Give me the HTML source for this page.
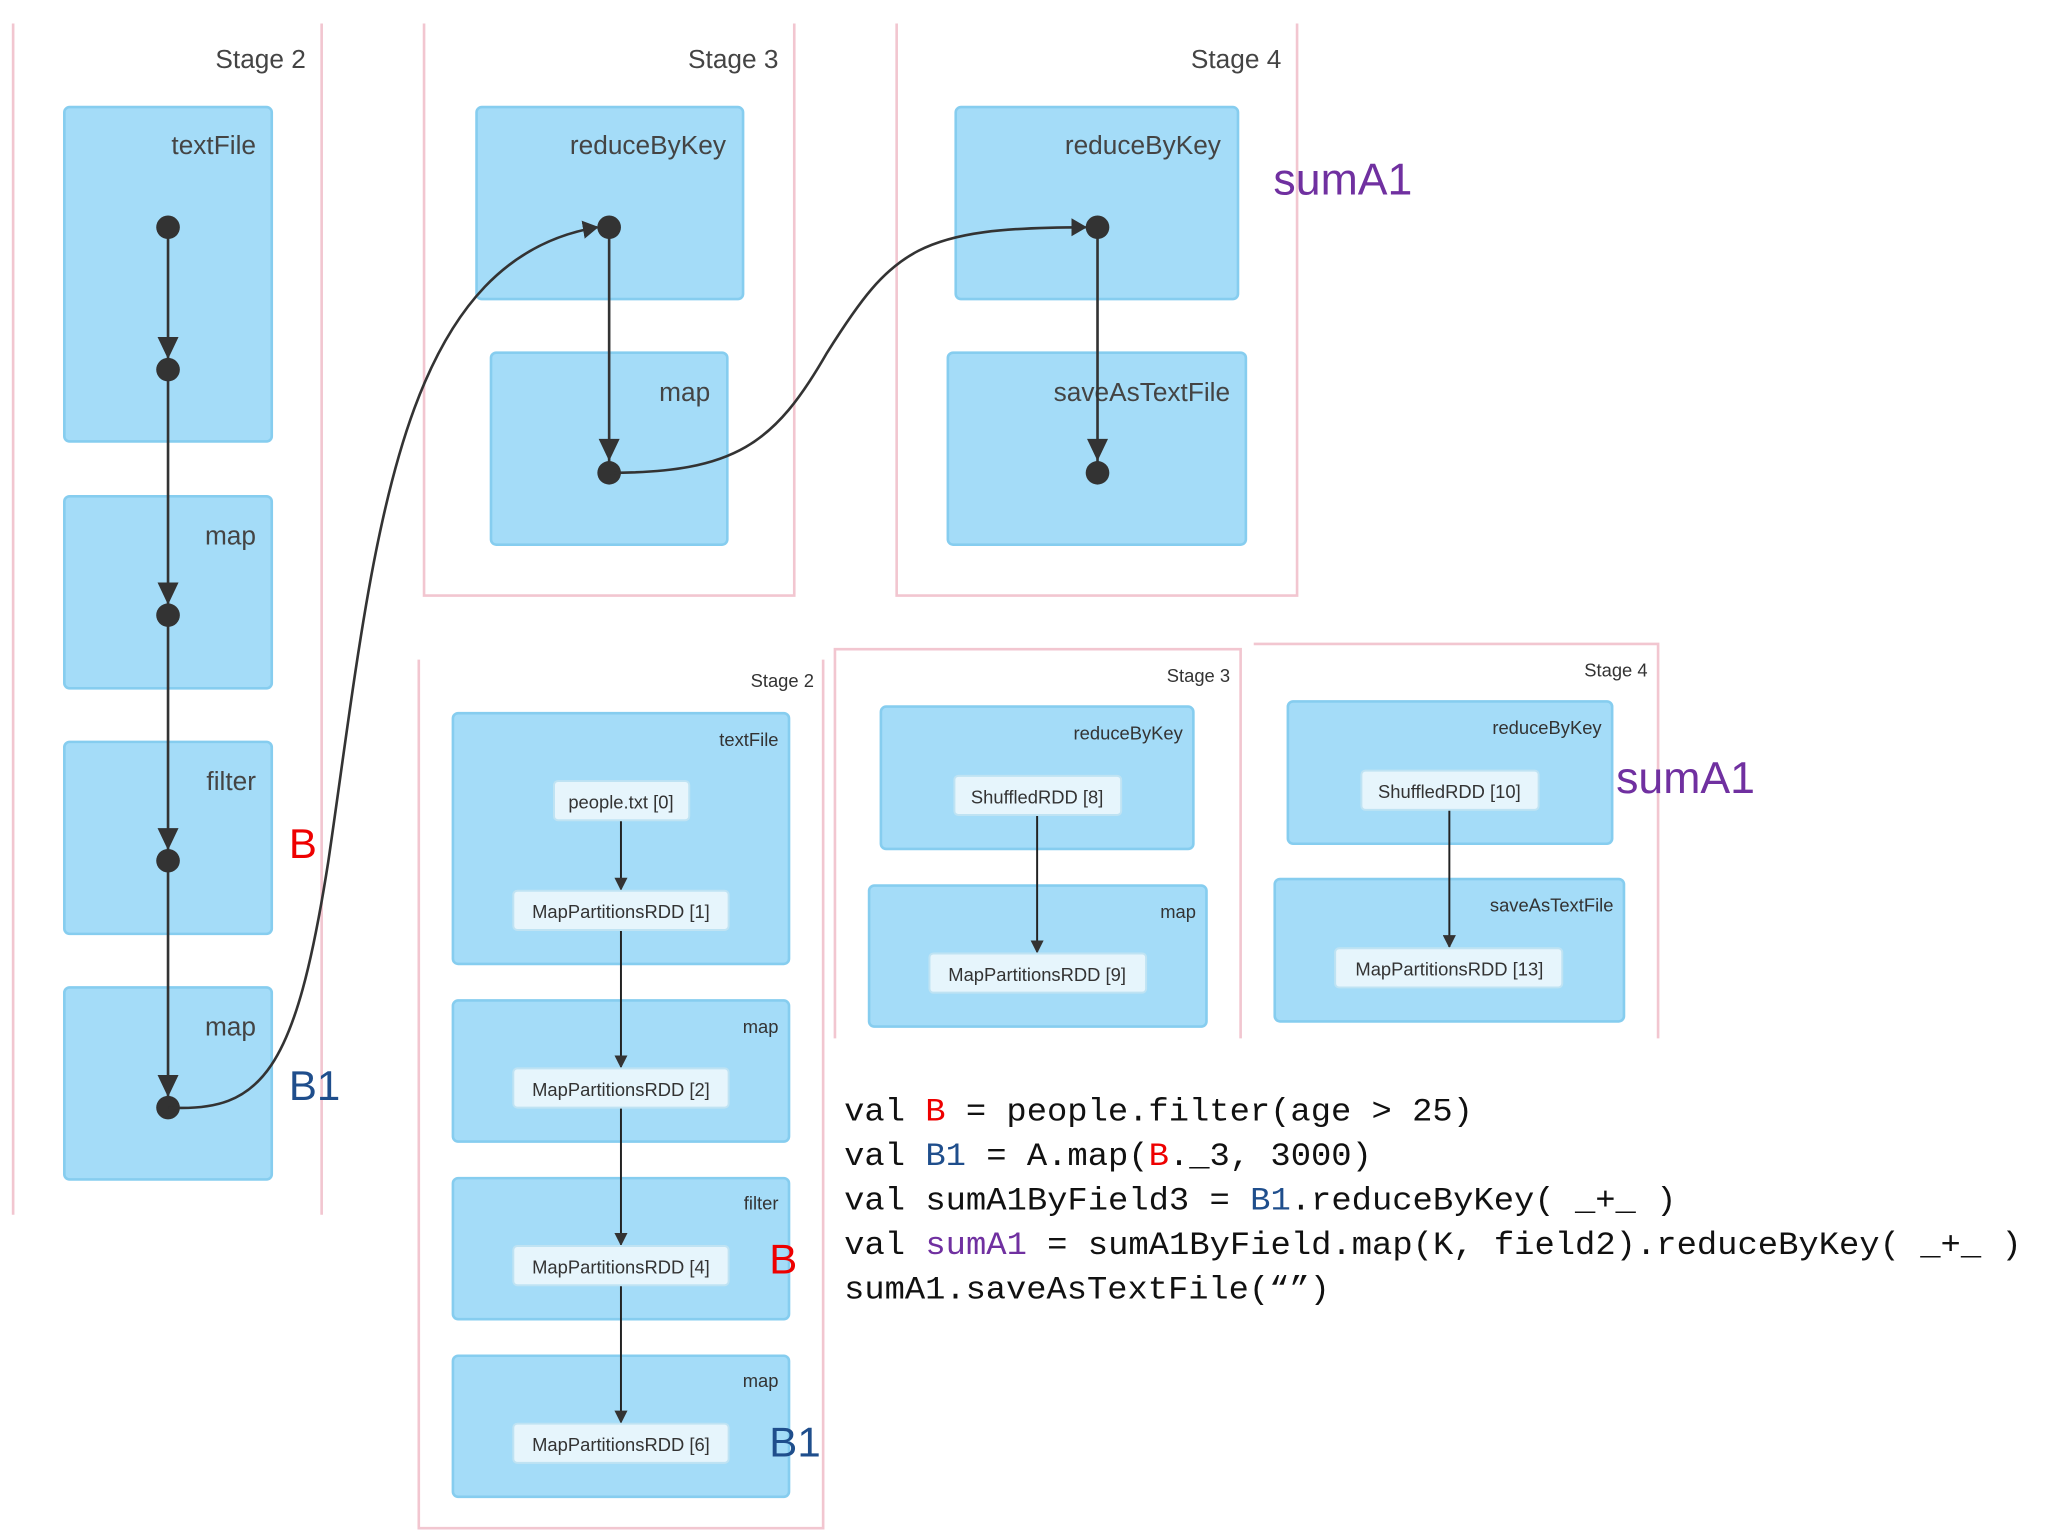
<!DOCTYPE html>
<html><head><meta charset="utf-8"><style>
html,body{margin:0;padding:0;background:#fff;}
svg{display:block}
text{font-family:"Liberation Sans",sans-serif;}
.lbl{font-size:20px;fill:#444;text-anchor:end}
.sl{font-size:14px;fill:#333;text-anchor:end}
.bx{fill:#a4dcf8;stroke:#86cdef;stroke-width:2}
.nd{fill:#e6f5fc;stroke:#bfe3f3;stroke-width:1.5}
.nt{font-size:14px;fill:#333;text-anchor:middle}
.pk{fill:none;stroke:#f2c6d0;stroke-width:2}
.code{font-family:"Liberation Mono",monospace;font-size:25px;fill:#111}
</style></head><body>
<svg width="2048" height="1536" viewBox="0 0 1560 1176" preserveAspectRatio="none" xmlns="http://www.w3.org/2000/svg">
<defs>
<marker id="a" markerWidth="10" markerHeight="10" refX="9" refY="5" orient="auto" markerUnits="userSpaceOnUse"><path d="M0,0 L10,5 L0,10 z" fill="#333"/></marker>
<marker id="s" markerWidth="12" markerHeight="14" refX="11" refY="7" orient="auto" markerUnits="userSpaceOnUse"><path d="M0,0 L12,7 L0,14 z" fill="#333"/></marker>
</defs>
<!-- Top stage 2 -->
<line x1="10" y1="18" x2="10" y2="930" stroke="#f2c6d0" stroke-width="2"/>
<line x1="245" y1="18" x2="245" y2="930" stroke="#f2c6d0" stroke-width="2"/>
<text x="233" y="52" class="lbl">Stage 2</text>
<rect class="bx" x="49" y="82" width="158" height="256" rx="4"/>
<rect class="bx" x="49" y="380" width="158" height="147" rx="4"/>
<rect class="bx" x="49" y="568" width="158" height="147" rx="4"/>
<rect class="bx" x="49" y="756" width="158" height="147" rx="4"/>
<text x="195" y="118" class="lbl">textFile</text>
<text x="195" y="417" class="lbl">map</text>
<text x="195" y="605" class="lbl">filter</text>
<text x="195" y="793" class="lbl">map</text>
<line x1="128" y1="174" x2="128" y2="848" stroke="#333" stroke-width="2"/>
<g fill="#333">
<path d="M120,258 L136,258 L128,275 z"/><path d="M120,446 L136,446 L128,463 z"/><path d="M120,634 L136,634 L128,651 z"/><path d="M120,823 L136,823 L128,840 z"/>
<circle cx="128" cy="174" r="9"/><circle cx="128" cy="283" r="9"/><circle cx="128" cy="471" r="9"/><circle cx="128" cy="659" r="9"/><circle cx="128" cy="848" r="9"/>
</g>
<!-- Top stage 3 -->
<path class="pk" d="M323,18 L323,456 L605,456 L605,18"/>
<text x="593" y="52" class="lbl">Stage 3</text>
<rect class="bx" x="363" y="82" width="203" height="147" rx="4"/>
<rect class="bx" x="374" y="270" width="180" height="147" rx="4"/>
<text x="553" y="118" class="lbl">reduceByKey</text>
<text x="541" y="307" class="lbl">map</text>
<line x1="464" y1="174" x2="464" y2="362" stroke="#333" stroke-width="2"/>
<g fill="#333"><path d="M456,336 L472,336 L464,353 z"/><circle cx="464" cy="174" r="9"/><circle cx="464" cy="362" r="9"/></g>
<!-- Top stage 4 -->
<path class="pk" d="M683,18 L683,456 L988,456 L988,18"/>
<text x="976" y="52" class="lbl">Stage 4</text>
<rect class="bx" x="728" y="82" width="215" height="147" rx="4"/>
<rect class="bx" x="722" y="270" width="227" height="147" rx="4"/>
<text x="930" y="118" class="lbl">reduceByKey</text>
<text x="937" y="307" class="lbl">saveAsTextFile</text>
<line x1="836" y1="174" x2="836" y2="362" stroke="#333" stroke-width="2"/>
<g fill="#333"><path d="M828,336 L844,336 L836,353 z"/><circle cx="836" cy="174" r="9"/><circle cx="836" cy="362" r="9"/></g>
<!-- curves -->
<path d="M128,848 C200,852 225,820 250,660 C285,420 300,200 455,174" fill="none" stroke="#333" stroke-width="2" marker-end="url(#s)"/>
<path d="M464,362 C560,362 590,340 630,270 C680,190 700,174 827,174" fill="none" stroke="#333" stroke-width="2" marker-end="url(#s)"/>
<text x="970" y="149" style="font-size:34px;fill:#7030a0">sumA1</text>
<text x="220" y="657" style="font-size:32px;fill:#e00">B</text>
<text x="220" y="842" style="font-size:32px;fill:#1f4e8c">B1</text>
<!-- Bottom stage 2 -->
<path class="pk" d="M319,505 L319,1170 L627,1170 L627,505"/>
<text x="620" y="526" class="sl">Stage 2</text>
<rect class="bx" x="345" y="546" width="256" height="192" rx="4"/>
<rect class="bx" x="345" y="766" width="256" height="108" rx="4"/>
<rect class="bx" x="345" y="902" width="256" height="108" rx="4"/>
<rect class="bx" x="345" y="1038" width="256" height="108" rx="4"/>
<text x="593" y="571" class="sl">textFile</text>
<text x="593" y="791" class="sl">map</text>
<text x="593" y="926" class="sl">filter</text>
<text x="593" y="1062" class="sl">map</text>
<line x1="473" y1="628" x2="473" y2="681" stroke="#222" stroke-width="1.5" marker-end="url(#a)"/>
<line x1="473" y1="712" x2="473" y2="817" stroke="#222" stroke-width="1.5" marker-end="url(#a)"/>
<line x1="473" y1="848" x2="473" y2="953" stroke="#222" stroke-width="1.5" marker-end="url(#a)"/>
<line x1="473" y1="984" x2="473" y2="1089" stroke="#222" stroke-width="1.5" marker-end="url(#a)"/>
<rect class="nd" x="422" y="598" width="103" height="30" rx="3"/><text x="473" y="619" class="nt">people.txt [0]</text>
<rect class="nd" x="391" y="682" width="164" height="30" rx="3"/><text x="473" y="703" class="nt">MapPartitionsRDD [1]</text>
<rect class="nd" x="391" y="818" width="164" height="30" rx="3"/><text x="473" y="839" class="nt">MapPartitionsRDD [2]</text>
<rect class="nd" x="391" y="954" width="164" height="30" rx="3"/><text x="473" y="975" class="nt">MapPartitionsRDD [4]</text>
<rect class="nd" x="391" y="1090" width="164" height="30" rx="3"/><text x="473" y="1111" class="nt">MapPartitionsRDD [6]</text>
<!-- Bottom stage 3 -->
<path class="pk" d="M636,795 L636,497 L945,497 L945,795"/>
<text x="937" y="522" class="sl">Stage 3</text>
<rect class="bx" x="671" y="541" width="238" height="109" rx="4"/>
<rect class="bx" x="662" y="678" width="257" height="108" rx="4"/>
<text x="901" y="566" class="sl">reduceByKey</text>
<text x="911" y="703" class="sl">map</text>
<line x1="790" y1="624" x2="790" y2="729" stroke="#222" stroke-width="1.5" marker-end="url(#a)"/>
<rect class="nd" x="727" y="594" width="127" height="30" rx="3"/><text x="790" y="615" class="nt">ShuffledRDD [8]</text>
<rect class="nd" x="708" y="730" width="165" height="30" rx="3"/><text x="790" y="751" class="nt">MapPartitionsRDD [9]</text>
<!-- Bottom stage 4 -->
<path class="pk" d="M955,493 L1263,493 L1263,795"/>
<text x="1255" y="518" class="sl">Stage 4</text>
<rect class="bx" x="981" y="537" width="247" height="109" rx="4"/>
<rect class="bx" x="971" y="673" width="266" height="109" rx="4"/>
<text x="1220" y="562" class="sl">reduceByKey</text>
<text x="1229" y="698" class="sl">saveAsTextFile</text>
<line x1="1104" y1="620" x2="1104" y2="725" stroke="#222" stroke-width="1.5" marker-end="url(#a)"/>
<rect class="nd" x="1037" y="590" width="135" height="30" rx="3"/><text x="1104" y="611" class="nt">ShuffledRDD [10]</text>
<rect class="nd" x="1017" y="726" width="173" height="30" rx="3"/><text x="1104" y="747" class="nt">MapPartitionsRDD [13]</text>
<text x="1231" y="607" style="font-size:34px;fill:#7030a0">sumA1</text>
<text x="586" y="975" style="font-size:32px;fill:#e00">B</text>
<text x="586" y="1115" style="font-size:32px;fill:#1f4e8c">B1</text>
<!-- code -->
<text class="code" x="643" y="858" textLength="479" lengthAdjust="spacingAndGlyphs">val <tspan fill="#e00">B</tspan> = people.filter(age &gt; 25)</text>
<text class="code" x="643" y="892" textLength="402" lengthAdjust="spacingAndGlyphs">val <tspan fill="#1f4e8c">B1</tspan> = A.map(<tspan fill="#e00">B</tspan>._3, 3000)</text>
<text class="code" x="643" y="926" textLength="634" lengthAdjust="spacingAndGlyphs">val sumA1ByField3 = <tspan fill="#1f4e8c">B1</tspan>.reduceByKey( _+_ )</text>
<text class="code" x="643" y="960" textLength="897" lengthAdjust="spacingAndGlyphs">val <tspan fill="#7030a0">sumA1</tspan> = sumA1ByField.map(K, field2).reduceByKey( _+_ )</text>
<text class="code" x="643" y="994" textLength="370" lengthAdjust="spacingAndGlyphs">sumA1.saveAsTextFile(“”)</text>
</svg>
</body></html>
